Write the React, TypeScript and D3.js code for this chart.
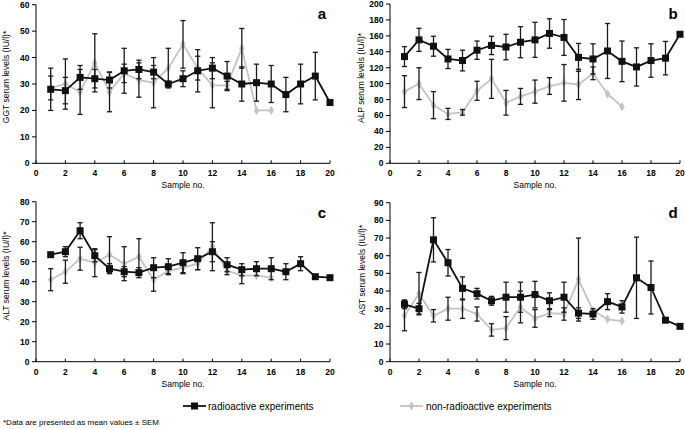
import React from "react";
import * as d3 from "d3";

const samples = d3.range(1, 21);

// a: GGT
const ggtRad = [28, 27.5, 32.5, 32, 31.5, 35, 35.5, 34.5, 30, 32, 35, 36, 33, 30, 30.5, 30, 26, 30, 33, 23];
const ggtRadErr = [8, 5, 4.5, 3.5, 3, 8.5, 3.5, 2.5, 1, 3, 8, 4, 5.5, 6.5, 7, 7, 6.5, 7.5, 9, 0];
const ggtNon = [28.5, 30, 27, 38, 27, 34, 31.5, 30.5, 36, 45, 36, 29.5, 29.5, 43.5, 20, 20];
const ggtNonErr = [4.5, 9.5, 8.5, 11, 7.5, 3.5, 6.5, 9.5, 7.5, 9, 4.5, 8.5, 1.5, 7.5, 0, 0];

// b: ALP
const alpRad = [134, 155, 147, 131, 129, 142, 148, 146, 152, 155, 163, 158, 133, 131, 141, 128, 121, 129, 132, 162];
const alpRadErr = [12.5, 14.5, 12.5, 12, 13, 11.5, 11.5, 16, 19.5, 22, 18.5, 22.5, 17.5, 19, 34.5, 25.5, 24, 21, 21, 0];
const alpNon = [90, 100, 73, 62, 64, 91, 106, 76, 84, 90, 97, 101, 99, 113, 87, 71];
const alpNonErr = [20, 20, 17, 7, 3.5, 12, 24.5, 15.5, 10, 14.5, 10.5, 23, 19, 8, 0, 0];

// c: ALT
const altRad = [53.5, 55, 65.5, 53, 46.5, 45, 44.5, 47, 47.5, 49.5, 51.5, 55, 48.5, 46, 46.5, 46.5, 45, 49, 42.5, 42];
const altRadErr = [1, 2.5, 4, 3, 2.5, 2.5, 2.5, 5, 4, 5, 5.5, 5, 3.5, 3, 3.5, 5.5, 4, 3.5, 0, 0];
const altNon = [41, 45, 51.5, 49.5, 53.5, 49, 52.5, 41, 45.5, 47, 49, 57.5, 45.5, 43, 43, 42];
const altNonErr = [5.5, 5.75, 5.75, 7, 9, 8.5, 9, 5.75, 1.5, 3, 3, 12, 2, 4, 0, 0];

// d: AST
const astRad = [32.5, 30, 69, 56, 41.5, 38.5, 34.5, 36.5, 36.5, 38, 34.5, 36.5, 27.5, 27, 34, 31, 47.5, 42, 23.5, 20];
const astRadErr = [2.5, 3, 12.5, 7.5, 6.5, 3, 2.5, 8.5, 8.5, 7.5, 4.5, 8.5, 3, 3, 4.5, 3.5, 23, 15, 0, 0];
const astNon = [26, 38.5, 26, 30, 30, 27, 18, 19, 31, 24.5, 27.5, 27, 46.5, 29, 24, 23];
const astNonErr = [8.5, 12, 3.5, 6.5, 5.5, 4, 3.5, 6.5, 9, 5, 2, 3.5, 23.5, 0, 0, 0];

const xTicks = d3.range(0, 21, 2);

const FONT = "'Liberation Sans', Arial, sans-serif";
const BLACK = "#111";
const GRAY = "#c4c4c4";

type PanelDef = {
  x0: number; x1: number; yBottom: number; yTop: number;
  yMax: number; yStep: number; label: string; letter: string;
  labelX: number; labelY: number; letterX: number; letterY: number;
  rad: number[]; radErr: number[]; non: number[]; nonErr: number[];
};

const panels: PanelDef[] = [
  { x0: 36, x1: 330, yBottom: 163.3, yTop: 4.7, yMax: 60, yStep: 10, label: "GGT serum levels (IU/l)*", letter: "a",
    labelX: 6, labelY: 77, letterX: 322, letterY: 14, rad: ggtRad, radErr: ggtRadErr, non: ggtNon, nonErr: ggtNonErr },
  { x0: 390, x1: 680, yBottom: 163.3, yTop: 4, yMax: 200, yStep: 20, label: "ALP serum levels (IU/l)*", letter: "b",
    labelX: 361, labelY: 78, letterX: 673, letterY: 14, rad: alpRad, radErr: alpRadErr, non: alpNon, nonErr: alpNonErr },
  { x0: 36, x1: 330, yBottom: 361.7, yTop: 201.7, yMax: 80, yStep: 10, label: "ALT serum levels (IU/l)*", letter: "c",
    labelX: 6, labelY: 276, letterX: 322, letterY: 213, rad: altRad, radErr: altRadErr, non: altNon, nonErr: altNonErr },
  { x0: 390, x1: 680, yBottom: 361.7, yTop: 202.7, yMax: 90, yStep: 10, label: "AST serum levels (IU/l)*", letter: "d",
    labelX: 362, labelY: 270, letterX: 673, letterY: 213, rad: astRad, radErr: astRadErr, non: astNon, nonErr: astNonErr },
];

function ErrorBars({ vals, errs, x, y }: { vals: number[]; errs: number[]; x: d3.ScaleLinear<number, number>; y: d3.ScaleLinear<number, number> }) {
  return (
    <g stroke="#1a1a1a" strokeWidth={1.3} fill="none">
      {vals.map((v, i) => {
        const e = errs[i];
        if (!e) return null;
        const cx = x(samples[i]);
        const yt = y(v + e), yb = y(v - e);
        return (
          <g key={i}>
            <line x1={cx} x2={cx} y1={yt} y2={yb} />
            <line x1={cx - 2.6} x2={cx + 2.6} y1={yt} y2={yt} />
            <line x1={cx - 2.6} x2={cx + 2.6} y1={yb} y2={yb} />
          </g>
        );
      })}
    </g>
  );
}

function Panel({ p }: { p: PanelDef }) {
  const x = d3.scaleLinear().domain([0, 20]).range([p.x0, p.x1]);
  const y = d3.scaleLinear().domain([0, p.yMax]).range([p.yBottom, p.yTop]);
  const yTicks = d3.range(0, p.yMax + 0.001, p.yStep);
  const line = d3.line<number>().x((_, i) => x(samples[i])).y((d) => y(d));
  const diamond = d3.symbol().type(d3.symbolDiamond).size(26)() as string;
  return (
    <g>
      {/* axes */}
      <line x1={p.x0} x2={p.x0} y1={p.yTop} y2={p.yBottom} stroke="#000" strokeWidth={1} />
      <line x1={p.x0} x2={p.x1} y1={p.yBottom} y2={p.yBottom} stroke="#000" strokeWidth={1} />
      {yTicks.map((t) => (
        <g key={t}>
          <line x1={p.x0 - 4} x2={p.x0} y1={y(t)} y2={y(t)} stroke="#000" />
          <text x={p.x0 - 6.5} y={y(t)} dy="0.35em" textAnchor="end" fontSize={8.5} fontWeight="bold" fontFamily={FONT}>{t}</text>
        </g>
      ))}
      {xTicks.map((t) => (
        <g key={t}>
          <line x1={x(t)} x2={x(t)} y1={p.yBottom - 3} y2={p.yBottom} stroke="#000" />
          <text x={x(t)} y={p.yBottom + 10} dy="0.35em" textAnchor="middle" fontSize={8.5} fontWeight="bold" fontFamily={FONT}>{t}</text>
        </g>
      ))}
      <text x={(p.x0 + p.x1) / 2} y={p.yBottom + 22} dy="0.35em" textAnchor="middle" fontSize={8.5} fontFamily={FONT}>Sample no.</text>
      <text transform={`translate(${p.labelX},${p.labelY}) rotate(-90)`} textAnchor="middle" dy="0.35em" fontSize={8.5} fontFamily={FONT}>{p.label}</text>
      <text x={p.letterX} y={p.letterY} dy="0.35em" textAnchor="middle" fontSize={15} fontWeight="bold" fontFamily={FONT}>{p.letter}</text>

      {/* non-radioactive series */}
      <path d={line(p.non) as string} fill="none" stroke={GRAY} strokeWidth={1.8} />
      {p.non.map((v, i) => (
        <path key={i} d={diamond} transform={`translate(${x(samples[i])},${y(v)})`} fill={GRAY} />
      ))}
      <ErrorBars vals={p.non} errs={p.nonErr} x={x} y={y} />

      {/* radioactive series */}
      <path d={line(p.rad) as string} fill="none" stroke={BLACK} strokeWidth={1.8} />
      <ErrorBars vals={p.rad} errs={p.radErr} x={x} y={y} />
      {p.rad.map((v, i) => (
        <rect key={i} x={x(samples[i]) - 3.5} y={y(v) - 3.5} width={7} height={7} fill={BLACK} />
      ))}
    </g>
  );
}

export default function App() {
  const diamond = d3.symbol().type(d3.symbolDiamond).size(26)() as string;
  return (
    <svg width={685} height={429} style={{ position: "absolute", left: 0, top: 0, background: "#fff" }}>
      <rect width={685} height={429} fill="#fff" />
      {panels.map((p) => <Panel key={p.letter} p={p} />)}
      {/* legend */}
      <line x1={183} x2={206} y1={406} y2={406} stroke={BLACK} strokeWidth={1.8} />
      <rect x={191} y={402.5} width={7} height={7} fill={BLACK} />
      <text x={208} y={406} dy="0.35em" fontSize={10} fontFamily={FONT}>radioactive experiments</text>
      <line x1={400} x2={423} y1={406} y2={406} stroke={GRAY} strokeWidth={1.8} />
      <path d={diamond} transform="translate(411.5,406)" fill={GRAY} />
      <text x={426} y={406} dy="0.35em" fontSize={10} fontFamily={FONT}>non-radioactive experiments</text>
      <text x={3} y={422} dy="0.35em" fontSize={8} fontFamily={FONT}>*Data are presented as mean values ± SEM</text>
    </svg>
  );
}
